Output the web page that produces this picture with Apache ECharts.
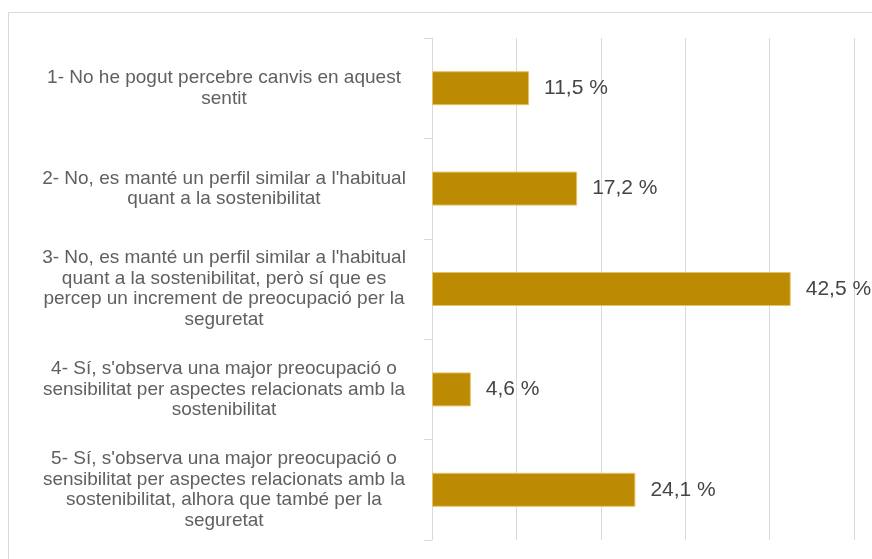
<!DOCTYPE html>
<html>
<head>
<meta charset="utf-8">
<script src="https://cdn.jsdelivr.net/npm/echarts@6/dist/echarts.min.js"></script>
<style>
  html, body { margin: 0; padding: 0; background: #fff; }
  #chart { width: 872px; height: 559px; }
</style>
</head>
<body>
<div id="chart"></div>
<script>
var categories = [
    "1- No he pogut percebre canvis en aquest\nsentit",
    "2- No, es manté un perfil similar a l'habitual\nquant a la sostenibilitat",
    "3- No, es manté un perfil similar a l'habitual\nquant a la sostenibilitat, però sí que es\npercep un increment de preocupació per la\nseguretat",
    "4- Sí, s'observa una major preocupació o\nsensibilitat per aspectes relacionats amb la\nsostenibilitat",
    "5- Sí, s'observa una major preocupació o\nsensibilitat per aspectes relacionats amb la\nsostenibilitat, alhora que també per la\nseguretat"
];
var values = [11.5, 17.2, 42.5, 4.6, 24.1];
var axisMin = 0;
var axisMax = 50;
var axisStep = 10;

var gridColor = '#d9d9d9';
var myChart = echarts.init(document.getElementById('chart'));

var option = {
    animation: false,
    textStyle: { fontFamily: 'Liberation Sans, Arial, sans-serif' },
    graphic: [{
        type: 'rect',
        silent: true,
        shape: { x: 8.5, y: 12.5, width: 900, height: 600 },
        style: { fill: 'none', stroke: gridColor, lineWidth: 1 }
    }],
    grid: { left: 432, right: 18, top: 38, bottom: 19 },
    xAxis: {
        type: 'value',
        min: axisMin,
        max: axisMax,
        interval: axisStep,
        axisLabel: { show: false },
        axisLine: { show: false },
        axisTick: { show: false },
        splitLine: { lineStyle: { color: gridColor, width: 1 } }
    },
    yAxis: {
        type: 'category',
        inverse: true,
        data: categories,
        axisLine: { show: true, lineStyle: { color: gridColor } },
        axisTick: { show: true, length: 8, lineStyle: { color: gridColor } },
        axisLabel: {
            margin: 208,
            align: 'center',
            color: '#606060',
            fontSize: 19,
            lineHeight: 20.5
        }
    },
    series: [{
        type: 'bar',
        data: values,
        barWidth: 34,
        itemStyle: {
            color: '#bd8a03',
            borderColor: '#e6c466',
            borderWidth: 1
        },
        label: {
            show: true,
            position: 'right',
            distance: 15,
            color: '#454545',
            fontSize: 21,
            formatter: function (p) {
                return p.value.toFixed(1).replace('.', ',') + ' %';
            }
        }
    }]
};

myChart.setOption(option);
</script>
</body>
</html>
